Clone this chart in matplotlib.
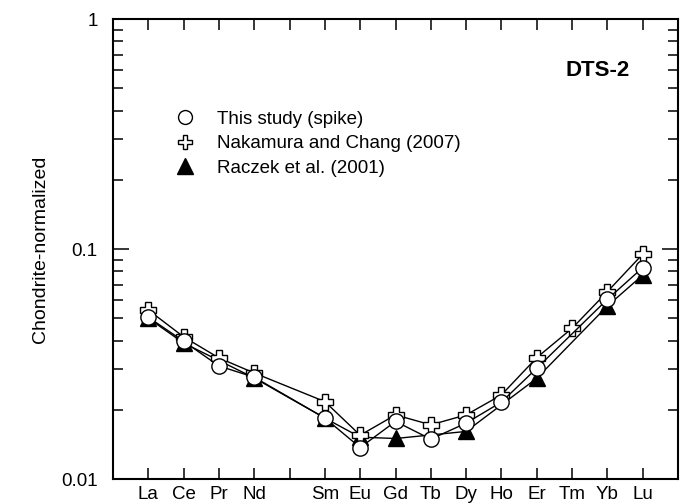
import numpy as np
import matplotlib
matplotlib.use("Agg")
import matplotlib.pyplot as plt
from matplotlib.lines import Line2D

plt.rcParams['font.family'] = ['Liberation Sans', 'DejaVu Sans']

# REE order, Pm kept as an empty slot
elements = ["La", "Ce", "Pr", "Nd", "", "Sm", "Eu", "Gd", "Tb", "Dy", "Ho", "Er", "Tm", "Yb", "Lu"]
nan = np.nan
spike = [0.0505, 0.0397, 0.0310, 0.0277, nan, 0.0184, 0.0137, 0.0178, 0.0149, 0.0175, 0.0216, 0.0303, nan, 0.0604, 0.0830]
nakamura = [0.0543, 0.0415, 0.0336, 0.0289, nan, 0.0217, 0.0155, 0.0190, 0.0172, 0.0190, 0.0232, 0.0337, 0.0452, 0.0652, 0.0950]
raczek = [0.0500, 0.0390, nan, 0.0275, nan, 0.0184, 0.0152, 0.0150, nan, 0.0161, nan, 0.0274, nan, 0.0565, 0.0770]

x = np.arange(1, len(elements) + 1)

fig = plt.figure(figsize=(6.83, 5.04), dpi=100)
ax = fig.add_axes([113/683, 1 - 479/504, 565/683, 460/504])


def draw(vals, **kw):
    v = np.array(vals, dtype=float)
    ok = ~np.isnan(v)
    ax.plot(x[ok], v[ok], color="black", lw=1.0, mec="black", mew=1.0, **kw)


draw(raczek, marker="^", ms=11, mfc="black", zorder=2)
draw(nakamura, marker="P", ms=11.5, mfc="white", zorder=3)
draw(spike, marker="o", ms=11, mfc="white", zorder=4)

ax.set_yscale("log")
ax.set_ylim(0.01, 1)
ax.set_xlim(0, 16)
ax.set_xticks(x)
ax.set_xticklabels(elements)
ax.set_yticks([0.01, 0.1, 1])
ax.set_yticklabels(["0.01", "0.1", "1"])
ax.tick_params(axis="x", which="both", direction="in", top=True, length=8, width=1.1,
               labelsize=13.5, pad=5)
ax.tick_params(axis="y", which="major", direction="in", right=True, length=11.5, width=1.1,
               labelsize=13.5, pad=11)
ax.tick_params(axis="y", which="minor", direction="in", right=True, length=7.2, width=1.1)
ax.yaxis.set_minor_formatter(plt.NullFormatter())
for s in ax.spines.values():
    s.set_linewidth(1.5)

ax.set_ylabel("Chondrite-normalized", fontsize=14, labelpad=9)

fig.text(630/683, 1 - 71/504, "DTS-2", ha="right", va="center", fontsize=16, fontweight="bold")

handles = [
    Line2D([], [], ls="none", marker="o", ms=10, mfc="white", mec="black", mew=1.0),
    Line2D([], [], ls="none", marker="P", ms=10.5, mfc="white", mec="black", mew=1.0),
    Line2D([], [], ls="none", marker="^", ms=11, mfc="black", mec="black"),
]
labels = ["This study (spike)", "Nakamura and Chang (2007)", "Raczek et al. (2001)"]
ax.legend(handles, labels, frameon=False, fontsize=13.5, loc="upper left",
          bbox_to_anchor=(58/565, 1 - 84/460), handlelength=0.7, handletextpad=1.35,
          labelspacing=0.4, borderaxespad=0)

fig.savefig("out.png", dpi=100)
